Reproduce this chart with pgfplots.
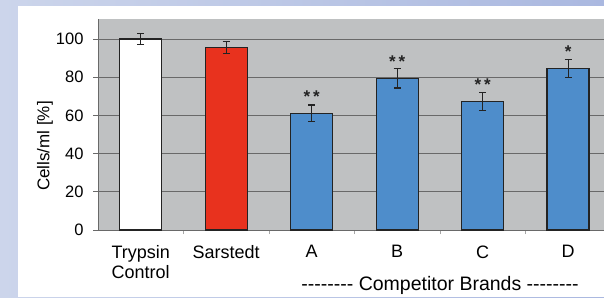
\documentclass[border=0pt]{standalone}
\usepackage{pgfplots}
\pgfplotsset{compat=1.18}
\usepackage{fontspec}
\setmainfont{Liberation Sans}
\definecolor{bgL}{RGB}{204,213,235}
\definecolor{bgR}{RGB}{170,184,224}
\definecolor{plotgray}{RGB}{191,193,194}
\definecolor{gridc}{RGB}{105,105,105}
\definecolor{barred}{RGB}{232,50,30}
\definecolor{barblue}{RGB}{78,141,203}
\definecolor{edge}{RGB}{35,35,35}
\begin{document}
\begin{tikzpicture}
\useasboundingbox (0,0) rectangle (604pt,297pt);
\shade[left color=bgL, right color=bgR] (0,0) rectangle (604pt,297pt);
\fill[white] (18pt,0) rectangle (604pt,291pt);
\begin{axis}[
  at={(98pt,67pt)}, anchor=south west,
  width=506pt, height=211pt, scale only axis,
  xmin=-0.5, xmax=5.42, ymin=0, ymax=110.5,
  /pgf/number format/assume math mode=true,
  axis background/.style={fill=plotgray},
  axis x line*=bottom, axis y line*=left,
  axis line style={gridc, line width=0.8pt, -},
  ytick={0,20,...,100},
  ymajorgrids, grid style={gridc, line width=0.8pt},
  tick align=outside,
  major tick length=5pt,
  ytick style={gridc, line width=0.8pt},
  xtick={0,...,5},
  xticklabels={{Trypsin\\Control},Sarstedt,A,B,C,D},
  x tick style={draw=none},
  minor xtick={0.5,1.5,...,4.5},
  minor x tick style={draw=gray!70, line width=0.6pt},
  minor tick length=4pt,
  xticklabel style={font=\fontsize{18}{19.5}\selectfont, align=center, anchor=north, yshift=-7pt},
  yticklabel style={font=\fontsize{16.5}{18}\selectfont, xshift=-6pt},
  ylabel={Cells/ml [\%]},
  ylabel style={at={(axis description cs:-0.105,0.398)}, anchor=center, font=\fontsize{17}{18}\selectfont},
  xlabel={-{}-{}-{}-{}-{}-{}-{}-{} Competitor Brands -{}-{}-{}-{}-{}-{}-{}-{}},
  xlabel style={at={(axis description cs:0.676,0)}, anchor=base, yshift=-60.7pt, font=\fontsize{19.5}{21}\selectfont},
  bar width=42pt,
  error bars/y dir=both, error bars/y explicit,
  error bars/error bar style={edge, line width=1.2pt},
  error bars/error mark options={edge, line width=1.2pt, mark size=3.5pt, rotate=90},
]
\addplot[ybar, bar shift=0pt, fill=white, draw=edge, line width=1.3pt]
  coordinates {(0,100) +- (0,2.7)};
\addplot[ybar, bar shift=0pt, fill=barred, draw=edge, line width=1.3pt]
  coordinates {(1,95.6) +- (0,3.3)};
\addplot[ybar, bar shift=0pt, fill=barblue, draw=edge, line width=1.3pt]
  coordinates {(2,61.1) +- (0,4.4) (3,79.4) +- (0,5.0) (4,67.2) +- (0,4.6) (5,84.5) +- (0,4.6)};
\addplot[draw=none, mark=none, nodes near coords, point meta=explicit symbolic,
  every node near coord/.style={anchor=center, font=\bfseries\fontsize{17}{17}\selectfont, text=edge, yshift=-4pt}]
  coordinates {(2,71.9) [*\,*] (3,90) [*\,*] (4,78) [*\,*] (5,95.4) [*]};
\end{axis}
\end{tikzpicture}
\end{document}
